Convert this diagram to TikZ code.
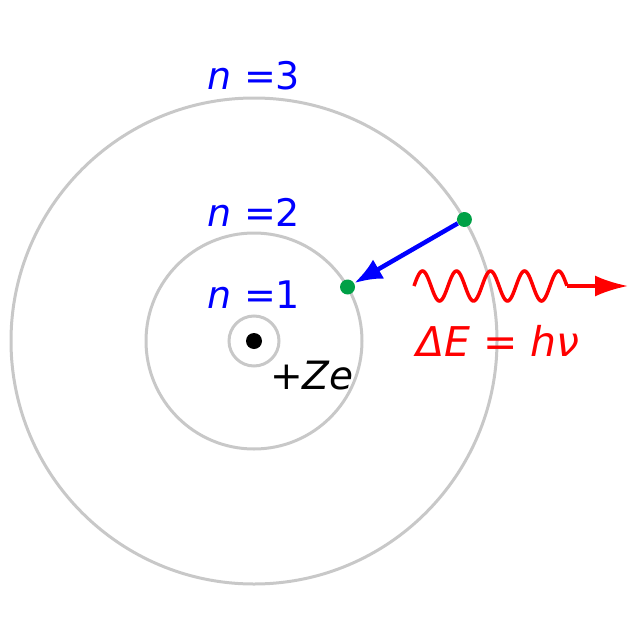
\documentclass[tikz,border=0pt]{standalone}
\usepackage{fontspec}
\setmainfont{DejaVu Sans}
\usetikzlibrary{arrows.meta}
\definecolor{orbitgray}{RGB}{200,200,200}
\definecolor{elecgreen}{RGB}{0,160,70}

\begin{document}
\begin{tikzpicture}[
  x=1pt, y=-1pt,
  orbit/.style={draw=orbitgray, line width=3pt},
  electron/.style={circle, fill=elecgreen, inner sep=0pt, minimum size=15pt},
  lbl/.style={text=blue, font=\fontsize{38}{44}\selectfont, anchor=base},
  jump/.style={draw=blue, line width=4.5pt, -{Latex[length=28pt,width=22pt]}},
  photon/.style={draw=red, line width=3.5pt}
]
\useasboundingbox (0,0) rectangle (640,640);

% nucleus and orbits
\node[circle, fill=black, inner sep=0pt, minimum size=16pt] (nucleus) at (254,341) {};
\draw[orbit] (nucleus.center) circle[radius=25pt];
\draw[orbit] (nucleus.center) circle[radius=108pt];
\draw[orbit] (nucleus.center) circle[radius=243pt];

\node[lbl] (n3) at (254,89) {\textit{n} =3};
\node[lbl] (n2) at (254,226) {\textit{n} =2};
\node[lbl] (n1) at (254,308) {\textit{n} =1};
\node[anchor=base west, font=\fontsize{39}{44}\selectfont, inner sep=0pt] (charge) at (270,389) {+\textit{Ze}};

% electrons and transition
\node[electron] (e3) at ([shift={(30:243pt)}]nucleus.center) {};
\node[electron] (e2) at ([shift={(30:108pt)}]nucleus.center) {};
\draw[jump] (e3) -- (e2);

% emitted photon
\coordinate (wstart) at (414,286);
\coordinate (wend) at (567,286);
\coordinate (ptip) at (628,286);
\draw[photon] plot[domain=0:4.5, samples=200, smooth] ({414+34*\x}, {286-15*sin(360*\x)});
\draw[photon, -{Latex[length=33pt,width=21pt]}] (wend) -- (ptip);
\node[anchor=base west, text=red, font=\fontsize{41}{46}\selectfont, inner sep=0pt] (energy) at (416,356) {\textit{ΔE} = \textit{hν}};
\end{tikzpicture}
\end{document}
